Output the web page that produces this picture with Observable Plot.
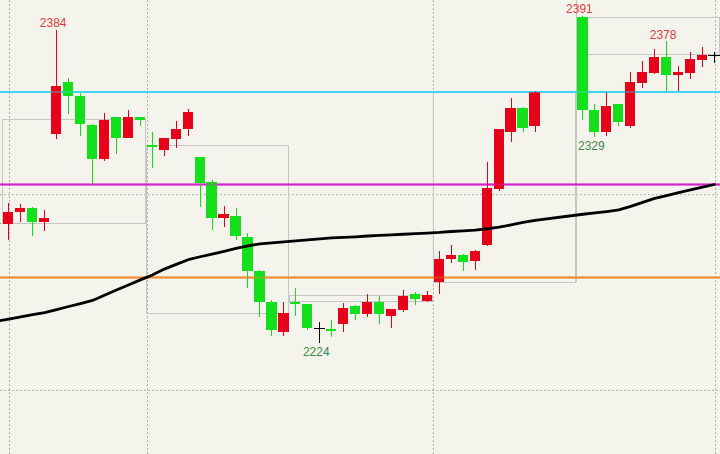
<!DOCTYPE html>
<html><head><meta charset="utf-8">
<script src="https://cdn.jsdelivr.net/npm/d3@7"></script>
<script src="https://cdn.jsdelivr.net/npm/@observablehq/plot@0.6"></script>
<style>
html,body{margin:0;padding:0;background:#f4f4ec;}
#chart{width:720px;height:454px;overflow:hidden;}
</style></head><body><div id="chart"></div>
<script>
// candle slot index (gap at 45..47)
const slot = [-1,0,1,2,3,4,5,6,7,8,9,10,11,12,13,14,15,16,17,18,19,20,21,22,23,24,25,26,27,28,29,30,31,32,33,34,35,36,37,38,39,40,41,42,43,44,48,49,50,51,52,53,54,55,56,57,58,59];
const open  = [2285.2,2284.8,2291.0,2293.1,2285.6,2330.7,2357.3,2350.1,2335.2,2317.8,2339.3,2328.8,2339.3,2325.1,2322.6,2328.0,2333.1,2318.8,2306.4,2287.7,2289.0,2278.0,2260.9,2245.1,2229.8,2245.1,2243.9,2231.9,2231.2,2233.5,2243.0,2238.8,2245.1,2237.8,2240.9,2248.9,2245.6,2254.9,2266.9,2268.9,2265.9,2273.9,2302.6,2331.6,2344.2,2334.8,2390.3,2343.0,2331.6,2346.1,2334.8,2356.9,2362.0,2370.2,2361.0,2362.0,2368.5,2371.1];
const high  = [2286.5,2295.5,2295.0,2293.5,2291.9,2384.0,2359.5,2351.7,2335.6,2341.3,2339.5,2343.0,2339.5,2331.9,2328.8,2337.5,2343.4,2319.0,2307.2,2294.1,2292.9,2280.0,2261.2,2246.0,2245.1,2251.9,2244.0,2234.9,2235.8,2244.3,2243.2,2248.9,2248.0,2241.5,2251.1,2249.9,2250.7,2270.8,2274.0,2269.2,2271.3,2316.6,2333.3,2349.3,2344.5,2352.5,2391.0,2346.1,2352.3,2346.3,2362.2,2368.0,2374.3,2378.0,2365.6,2372.5,2375.3,2372.8];
const low   = [2283.0,2276.6,2285.8,2278.6,2281.4,2328.0,2341.0,2329.7,2305.2,2316.9,2320.5,2328.6,2334.8,2313.5,2319.7,2323.4,2329.9,2293.6,2281.7,2283.4,2276.6,2251.9,2237.4,2227.6,2227.6,2237.8,2230.6,2224.0,2226.9,2229.8,2235.8,2237.4,2233.5,2231.8,2239.7,2243.4,2244.9,2248.8,2264.7,2260.8,2261.3,2273.7,2301.8,2326.8,2331.6,2331.6,2337.9,2329.0,2329.9,2334.8,2334.0,2354.1,2361.4,2352.7,2352.7,2358.8,2365.1,2367.2];
const close = [2284.6,2291.0,2293.1,2285.6,2287.8,2355.3,2350.1,2335.7,2317.8,2337.9,2328.8,2339.3,2337.9,2323.9,2328.5,2333.3,2342.1,2305.9,2287.7,2289.9,2278.8,2260.9,2244.8,2230.6,2239.2,2243.8,2231.8,2231.9,2230.1,2241.7,2238.8,2245.1,2238.8,2241.2,2248.2,2246.5,2248.5,2267.1,2269.1,2265.2,2271.0,2303.0,2333.1,2344.2,2334.0,2352.3,2343.0,2331.6,2345.0,2337.0,2357.3,2362.2,2370.2,2361.0,2362.2,2369.0,2371.1,2371.1];

// moving average
const maSlot = [-1,0,1,2,3,4,5,6,7,8,9,10,11,12,13,14,15,16,17,18,19,20,21,22,23,24,25,26,27,28,29,30,31,32,33,34,35,36,37,38,39,40,41,42,43,44,48,49,50,51,52,53,54,55,56,57,58,59];
const maVal  = [2235.4,2236.5,2237.6,2238.7,2239.8,2241.3,2242.9,2244.4,2246.0,2248.6,2251.3,2253.9,2256.5,2259.0,2262.0,2264.4,2266.8,2268.3,2269.7,2271.1,2272.6,2273.8,2274.9,2275.4,2275.9,2276.4,2276.9,2277.4,2277.9,2278.2,2278.5,2278.9,2279.2,2279.5,2279.8,2280.1,2280.4,2280.7,2281.2,2281.5,2281.9,2282.6,2283.4,2284.6,2285.9,2286.9,2290.0,2290.7,2291.4,2292.2,2294.0,2296.1,2298.1,2299.5,2301.0,2302.5,2303.9,2305.2];

// periods (open-close boxes)
const periodStart = [0,12,24,36,48];
const periodEnd   = [11,23,35,47,59];

// horizontal levels
const levelValues = [2352.5, 2305.2, 2257.7];
const levelColors = ["#3cd6ee", "#d81fd0", "#f08a2a"];

// grid ticks
const gridX = [0.06, 11.6, 35.5, 59.1];
const gridY = [2200, 2300, 2400];

// annotations
const labelSlot = [4, 48, 55, 49, 26];
const labelVal  = [2384, 2391, 2378, 2329, 2224];
const labelKind = ["high","high","high","low","low"];

const RED = "#e6001a", GREEN = "#12e01a", BLACK = "#000";
const candles = slot.map((s,k)=>({i:s,o:open[k],h:high[k],l:low[k],c:close[k]}));
const col = d => d.c > d.o ? RED : d.c < d.o ? GREEN : BLACK;
const bodies = candles.filter(d=>d.c !== d.o);
const dojis = candles.filter(d=>d.c === d.o);
const ma = maSlot.map((s,k)=>({i:s,v:maVal[k]}));
const boxes = periodStart.map((s,k)=>{
  const inP = candles.filter(d=>d.i>=s && d.i<=periodEnd[k]);
  return {s, e:periodEnd[k], o:inP[0].o, c:inP[inP.length-1].c};
});
const lastBox = boxes[boxes.length-2];
const labels = labelSlot.map((s,k)=>({i:s,v:labelVal[k],kind:labelKind[k]}));
const font = "Liberation Sans Narrow, Arial Narrow, Liberation Sans, sans-serif";

const chart = Plot.plot({
  width:720, height:454, margin:0,
  style:{background:"#f4f4ec", overflow:"hidden"},
  x:{type:"linear", domain:[-0.694, 59.507], axis:null},
  y:{type:"linear", domain:[2167.31, 2399.17], axis:null},
  color:{type:"identity"},
  marks:[
    Plot.ruleX(gridX, {stroke:"#acacac", strokeDasharray:"2,2"}),
    Plot.ruleY(gridY, {stroke:"#b2b2b2", strokeDasharray:"2,2"}),
    Plot.rect(boxes, {x1:d=>d.s-0.45, x2:d=>d.e+0.45, y1:"o", y2:"c", fill:"none", stroke:"#c6c6c6", shapeRendering:"crispEdges"}),
    Plot.ruleX([lastBox.e+0.45], {y1:Math.min(lastBox.o,lastBox.c), y2:2399.17, stroke:"#c6c6c6", shapeRendering:"crispEdges"}),
    ...levelValues.map((v,k)=>Plot.ruleY([v], {stroke:levelColors[k], strokeWidth:2})),
    Plot.ruleX(candles, {x:"i", y1:"l", y2:"h", stroke:col, strokeWidth:1, shapeRendering:"crispEdges"}),
    Plot.rect(bodies, {x1:d=>d.i-0.43, x2:d=>d.i+0.43, y1:"o", y2:"c", fill:col, shapeRendering:"crispEdges"}),
    Plot.ruleY(dojis, {x1:d=>d.i-0.48, x2:d=>d.i+0.48, y:"o", stroke:BLACK, shapeRendering:"crispEdges"}),
    ...levelValues.map((v,k)=>Plot.ruleY([v], {stroke:levelColors[k], strokeWidth:2, strokeOpacity:0.35})),
    Plot.line(ma, {x:"i", y:"v", stroke:"#000", strokeWidth:2.8}),
    Plot.text(labels.filter(d=>d.kind==="high"), {x:"i", y:"v", text:d=>String(d.v), fill:"#e23c3c", lineAnchor:"bottom", dy:-3, dx:-3.5, fontSize:12, fontFamily:font}),
    Plot.text(labels.filter(d=>d.kind==="low"), {x:"i", y:"v", text:d=>String(d.v), fill:"#3f8a48", lineAnchor:"top", dy:3.5, dx:-3.5, fontSize:12, fontFamily:font})
  ]
});
document.getElementById("chart").appendChild(chart);
</script></body></html>
